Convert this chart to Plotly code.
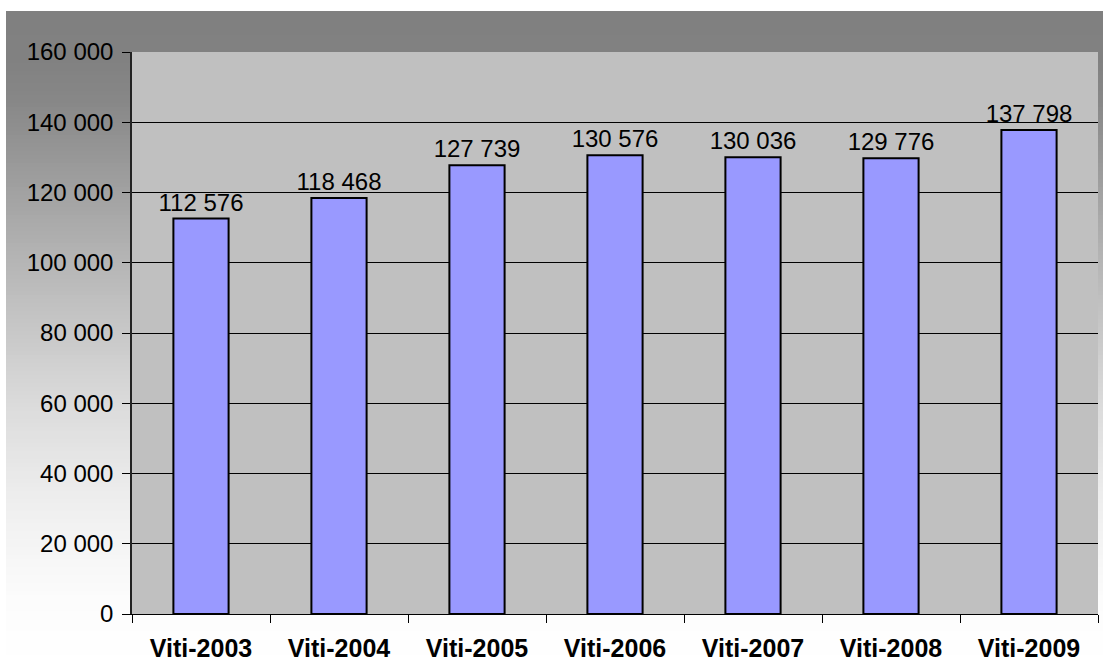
import plotly.graph_objects as go

categories = ["Viti-2003", "Viti-2004", "Viti-2005", "Viti-2006", "Viti-2007", "Viti-2008", "Viti-2009"]
values = [112576, 118468, 127739, 130576, 130036, 129776, 137798]
y_ticks = [0, 20000, 40000, 60000, 80000, 100000, 120000, 140000, 160000]
y_tick_labels = ["0", "20 000", "40 000", "60 000", "80 000", "100 000", "120 000", "140 000", "160 000"]
value_labels = [f"{v:,}".replace(",", " ") for v in values]

W, H = 1103, 664
FONT = "Arial, 'Liberation Sans', sans-serif"

# plot-area position in pixels
px_l, px_r, px_t, px_b = 132, 1098, 52, 614
dom_x = [px_l / W, px_r / W]
dom_y = [1 - px_b / H, 1 - px_t / H]

# background gradient (vertical), pixel y -> gray level stops
stops = [(11, 128), (60, 129), (100, 135), (250, 178), (400, 218), (500, 238), (600, 252), (664, 255)]

def gray_at(y):
    for (y0, g0), (y1, g1) in zip(stops[:-1], stops[1:]):
        if y0 <= y <= y1:
            t = (y - y0) / (y1 - y0)
            return g0 + t * (g1 - g0)
    return 255

shapes = []
y = 11
step = 4
while y < H:
    y2 = min(y + step, H)
    g = int(round(gray_at((y + y2) / 2)))
    shapes.append(dict(type="rect", xref="paper", yref="paper",
                       x0=6 / W, x1=1.0, y0=1 - min(y2 + 1, H) / H, y1=1 - y / H,
                       fillcolor=f"rgb({g},{g},{g})", line=dict(width=0), layer="below"))
    y = y2
# plot area background
shapes.append(dict(type="rect", xref="paper", yref="paper",
                   x0=dom_x[0], x1=dom_x[1], y0=dom_y[0], y1=dom_y[1],
                   fillcolor="#c0c0c0", line=dict(width=0), layer="below"))

fig = go.Figure()
fig.add_trace(go.Bar(
    x=categories, y=values,
    marker=dict(color="#9999ff", line=dict(color="black", width=2)),
    text=value_labels, textposition="outside", constraintext="none",
    textfont=dict(family=FONT, size=24, color="black"),
    cliponaxis=False, hoverinfo="skip",
))

fig.update_layout(
    width=W, height=H,
    margin=dict(l=0, r=0, t=0, b=0, autoexpand=False),
    paper_bgcolor="white",
    plot_bgcolor="rgba(0,0,0,0)",
    bargap=0.6,
    showlegend=False,
    shapes=shapes,
    font=dict(family=FONT, color="black"),
    xaxis=dict(
        domain=dom_x,
        automargin=False,
        type="category",
        tickson="boundaries",
        ticks="outside", ticklen=8, tickcolor="black", tickwidth=1,
        showline=True, linecolor="black", linewidth=1,
        showgrid=False,
        tickfont=dict(family=FONT, size=25, color="black", weight="bold"),
        ticklabelstandoff=12,
    ),
    yaxis=dict(
        domain=dom_y,
        automargin=False,
        range=[0, 160000],
        tickvals=y_ticks, ticktext=y_tick_labels,
        ticks="outside", ticklen=8, tickcolor="black", tickwidth=1,
        showline=True, linecolor="#222", linewidth=1.5,
        showgrid=True, gridcolor="black", gridwidth=1,
        zeroline=False,
        tickfont=dict(family=FONT, size=24, color="black"),
        ticklabelstandoff=4,
    ),
)

post = ("document.documentElement.style.margin='0';"
        "document.documentElement.style.overflow='hidden';"
        "document.body.style.margin='0';"
        "document.body.style.padding='0';"
        "document.body.style.overflow='hidden';"
        "var gd=document.getElementById('{plot_id}');"
        "gd.style.position='absolute';gd.style.top='0px';gd.style.left='0px';")

fig.write_html("out.html", post_script=post, config={"displayModeBar": False})
